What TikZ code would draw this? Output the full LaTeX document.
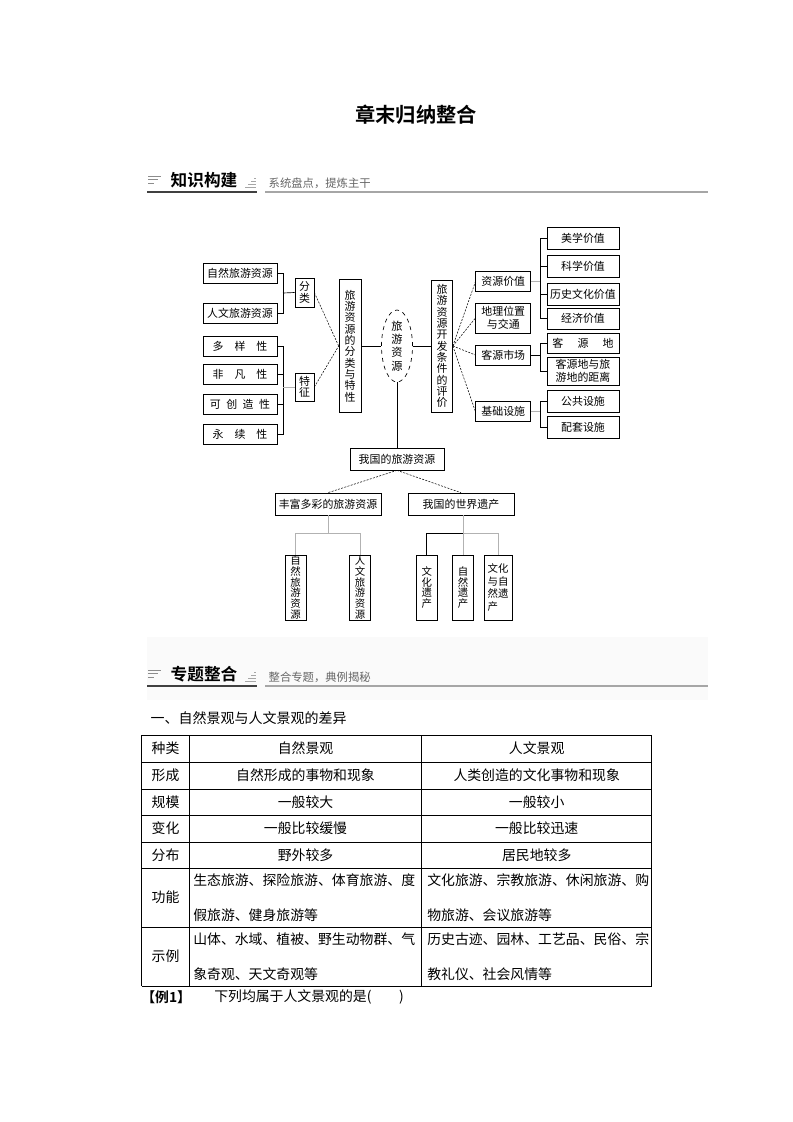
\documentclass[tikz,border=0pt]{standalone}
\usepackage{fontspec}
\setmainfont{Noto Sans CJK SC}[BoldFont={Noto Sans CJK SC Bold}]
\usetikzlibrary{shapes.geometric}
\newdimen\pxu \pxu=0.75pt

\tikzset{
  box/.style={draw, line width=0.5pt, inner sep=0pt, align=center, font=\fontsize{8.2}{10}\selectfont},
  lbox/.style={box, minimum width=74\pxu, minimum height=20\pxu},
  mbox/.style={box, minimum width=55\pxu, minimum height=20\pxu},
  rbox/.style={box, minimum width=72\pxu, minimum height=22\pxu},
  vbox/.style={box, font=\fontsize{8.2}{8.5}\selectfont},
  sbox/.style={box, minimum width=21\pxu, minimum height=65\pxu, font=\fontsize{7.8}{8.1}\selectfont},
  link/.style={line width=0.5pt},
  dlink/.style={line width=0.4pt, dash pattern=on 1.5pt off 1pt},
  glink/.style={line width=0.6pt, black!30},
  cell/.style={inner sep=0pt, font=\fontsize{10.4}{26.25}\selectfont},
}

\begin{document}
\begin{tikzpicture}[x=0.75pt, y=-0.75pt]
\useasboundingbox (0,0) rectangle (793,1122);

% title
\node[font=\bfseries\fontsize{15.2}{16}\selectfont] (title) at (416,115) {章末归纳整合};

% header 1
\draw[black!45, line width=0.7pt] (148,176) -- (161,176) (148,179.5) -- (158,179.5) (148,183) -- (154,183);
\node[anchor=west, font=\bfseries\fontsize{12.5}{14}\selectfont] (head1) at (166,180) {知识构建};
\draw[black!35, line width=0.5pt] (254,178) -- (256,178) (251,181) -- (256,181) (248,184) -- (256,184) (245,187) -- (256,187);
\node[anchor=west, black!60, font=\fontsize{8.5}{10}\selectfont] (sub1) at (264,183) {系统盘点，提炼主干};
\draw[line width=1.2pt, black!75] (147,192) -- (257,192);
\draw[line width=1pt, black!35] (265,192) -- (708,192);

% left column
\node[lbox] (zrly) at (240,273) {自然旅游资源};
\node[lbox] (rwly) at (240,313) {人文旅游资源};
\node[lbox] (dyx) at (240,346) {多\hspace{1em}样\hspace{1em}性};
\node[lbox] (ffx) at (240,374) {非\hspace{1em}凡\hspace{1em}性};
\node[lbox] (kczx) at (240,404) {可\hspace{0.5em}创\hspace{0.5em}造\hspace{0.5em}性};
\node[lbox] (yxx) at (240,434) {永\hspace{1em}续\hspace{1em}性};

\node[vbox, minimum width=19\pxu, minimum height=29\pxu] (fenlei) at (304.5,292.5) {分\\类};
\node[vbox, minimum width=19\pxu, minimum height=28\pxu] (tezheng) at (304.5,387) {特\\征};
\node[vbox, minimum width=22\pxu, minimum height=133\pxu] (flyts) at (350,346) {旅\\游\\资\\源\\的\\分\\类\\与\\特\\性};

\node[draw, dashed, line width=0.5pt, ellipse, inner sep=0pt, minimum width=31\pxu, minimum height=72\pxu, align=center, font=\fontsize{8.4}{10}\selectfont] (lyzy) at (397,346) {旅\\游\\资\\源};

\node[vbox, minimum width=21\pxu, minimum height=132\pxu] (kfpj) at (442,346) {旅\\游\\资\\源\\开\\发\\条\\件\\的\\评\\价};

% middle right column
\node[mbox] (zyjz) at (503.3,281.7) {资源价值};
\node[mbox, minimum height=30\pxu, font=\fontsize{8.2}{9.5}\selectfont] (dlwz) at (503.3,318) {地理位置\\与交通};
\node[mbox] (kysc) at (503.3,355) {客源市场};
\node[mbox] (jcss) at (503.3,411.7) {基础设施};

% right column
\node[rbox] (mxjz) at (583,238) {美学价值};
\node[rbox] (kxjz) at (583,266) {科学价值};
\node[rbox] (lswh) at (583,294) {历史文化价值};
\node[rbox, minimum height=21\pxu] (jjjz) at (583,318.5) {经济价值};
\node[rbox, minimum height=20\pxu] (kyd) at (583,343) {客\hspace{1.3em}源\hspace{1.3em}地};
\node[rbox, minimum height=28\pxu, font=\fontsize{8.2}{9.5}\selectfont] (jl) at (583,371) {客源地与旅\\游地的距离};
\node[rbox] (ggss) at (583,401) {公共设施};
\node[rbox] (ptss) at (583,427.5) {配套设施};

% lower tree
\node[box, minimum width=94\pxu, minimum height=22\pxu] (wgly) at (397,459) {我国的旅游资源};
\node[box, minimum width=106\pxu, minimum height=22\pxu] (fengfu) at (328,504) {丰富多彩的旅游资源};
\node[box, minimum width=106\pxu, minimum height=22\pxu] (yichan) at (461,504) {我国的世界遗产};

\node[sbox] (zrv) at (295.5,587.5) {自\\然\\旅\\游\\资\\源};
\node[sbox] (rwv) at (360,587.5) {人\\文\\旅\\游\\资\\源};
\node[sbox] (whyc) at (426.7,587.5) {文\\化\\遗\\产};
\node[sbox] (zryc) at (463,587.5) {自\\然\\遗\\产};
\node[sbox, minimum width=28\pxu, align=left, font=\fontsize{7.8}{9.5}\selectfont] (whzr) at (498,587.5) {文化\\与自\\然遗\\产};

% connectors, left
\coordinate (bA) at (283,293);
\draw[link] (zrly.east) -| (bA) (rwly.east) -| (bA);
\draw[link] (bA) -- (fenlei.west);
\coordinate (bB) at (283,387);
\draw[link] (dyx.east) -| (bB) (ffx.east) -| (bB) (kczx.east) -| (bB) (yxx.east) -| (bB);
\draw[glink] (bB) -- (tezheng.west);
\draw[dlink] (fenlei.east) -- (flyts.west);
\draw[dlink] (tezheng.east) -- (flyts.west);
\draw[link] (flyts.east) -- (lyzy.west);
\draw[link] (lyzy.east) -- (kfpj.west);
\draw[link] (lyzy.south) -- (wgly.north);

% connectors, right
\draw[dlink] (kfpj.east) -- (zyjz.west);
\draw[dlink] (kfpj.east) -- (dlwz.west);
\draw[dlink] (kfpj.east) -- (kysc.west);
\draw[dlink] (kfpj.east) -- (jcss.west);
\coordinate (bC) at (540,281.7);
\draw[link] (mxjz.west) -| (bC) (kxjz.west) -| (bC) (lswh.west) -| (bC) (jjjz.west) -| (bC);
\draw[glink] (zyjz.east) -- (bC);
\coordinate (bD) at (540,355);
\draw[link] (kyd.west) -| (bD) (jl.west) -| (bD);
\draw[link] (kysc.east) -- (bD);
\coordinate (bE) at (540,411.7);
\draw[link] (ggss.west) -| (bE) (ptss.west) -| (bE);
\draw[glink] (jcss.east) -- (bE);

% connectors, lower
\draw[dlink] (wgly.south) -- (fengfu.north);
\draw[dlink] (wgly.south) -- (yichan.north);
\coordinate (bF) at (328,533);
\draw[glink] (fengfu.south) -- (bF);
\draw[glink] (zrv.north) |- (bF) (rwv.north) |- (bF);
\coordinate (bG) at (463,533);
\draw[glink] (yichan.south -| bG) -- (bG);
\draw[link] (whyc.north) |- (bG);
\draw[glink] (zryc.north) -- (bG);
\draw[glink] (whzr.north) |- (bG);

% header 2
\fill[black!2] (147,637) rectangle (708,700);
\draw[black!45, line width=0.7pt] (148,670) -- (161,670) (148,673.5) -- (158,673.5) (148,677) -- (154,677);
\node[anchor=west, font=\bfseries\fontsize{12.5}{14}\selectfont] (head2) at (166,674) {专题整合};
\draw[black!35, line width=0.5pt] (254,672) -- (256,672) (251,675) -- (256,675) (248,678) -- (256,678) (245,681) -- (256,681);
\node[anchor=west, black!60, font=\fontsize{8.5}{10}\selectfont] (sub2) at (264,677) {整合专题，典例揭秘};
\draw[line width=1.2pt, black!75] (147,686) -- (257,686);
\draw[line width=1pt, black!35] (265,686) -- (708,686);

\node[anchor=west, font=\fontsize{10.5}{12}\selectfont] (sec1) at (146,718) {一、自然景观与人文景观的差异};

% table
\foreach \y in {735,762,789,815,842,868,927,986}
  \draw[line width=0.6pt] (141.7,\y) -- (651.7,\y);
\foreach \x in {141.7,189.3,421.7,651.7}
  \draw[line width=0.6pt] (\x,735) -- (\x,986);

\node[cell] (r1a) at (165.5,748.5) {种类};
\node[cell] (r1b) at (305.5,748.5) {自然景观};
\node[cell] (r1c) at (536.7,748.5) {人文景观};
\node[cell] (r2a) at (165.5,775.5) {形成};
\node[cell] (r2b) at (305.5,775.5) {自然形成的事物和现象};
\node[cell] (r2c) at (536.7,775.5) {人类创造的文化事物和现象};
\node[cell] (r3a) at (165.5,802) {规模};
\node[cell] (r3b) at (305.5,802) {一般较大};
\node[cell] (r3c) at (536.7,802) {一般较小};
\node[cell] (r4a) at (165.5,828.5) {变化};
\node[cell] (r4b) at (305.5,828.5) {一般比较缓慢};
\node[cell] (r4c) at (536.7,828.5) {一般比较迅速};
\node[cell] (r5a) at (165.5,855) {分布};
\node[cell] (r5b) at (305.5,855) {野外较多};
\node[cell] (r5c) at (536.7,855) {居民地较多};
\node[cell] (r6a) at (165.5,897.5) {功能};
\node[cell, anchor=west, align=left] (r6b) at (193,897.5) {生态旅游、探险旅游、体育旅游、度\\假旅游、健身旅游等};
\node[cell, anchor=west, align=left] (r6c) at (427,897.5) {文化旅游、宗教旅游、休闲旅游、购\\物旅游、会议旅游等};
\node[cell] (r7a) at (165.5,956.5) {示例};
\node[cell, anchor=west, align=left] (r7b) at (193,956.5) {山体、水域、植被、野生动物群、气\\象奇观、天文奇观等};
\node[cell, anchor=west, align=left] (r7c) at (427,956.5) {历史古迹、园林、工艺品、民俗、宗\\教礼仪、社会风情等};

\node[cell, anchor=west, font=\bfseries\fontsize{10.4}{12}\selectfont] (ex1) at (141,997) {【例1】};
\node[cell, anchor=west] (ex1q) at (214,997) {下列均属于人文景观的是(\hspace{2em})};
\end{tikzpicture}
\end{document}
